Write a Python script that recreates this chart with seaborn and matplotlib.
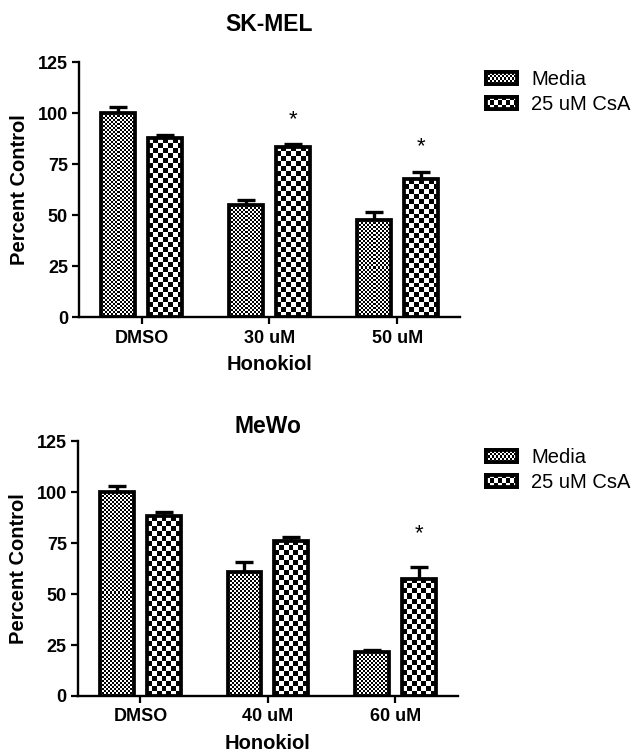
import numpy as np
import pandas as pd
import matplotlib
matplotlib.use("Agg")
import matplotlib.pyplot as plt
from matplotlib.patches import Patch
import seaborn as sns

# ---- data ----
conditions = ["Media", "25 uM CsA"]

skmel_treatments = ["DMSO", "30 uM", "50 uM"]
skmel_media = [100.0, 54.9, 47.5]
skmel_csa = [87.7, 83.5, 67.6]
skmel_media_err = [2.8, 2.3, 3.8]
skmel_csa_err = [1.3, 1.2, 3.6]
skmel_stars = ["30 uM", "50 uM"]
skmel_star_y = [98, 85]

mewo_treatments = ["DMSO", "40 uM", "60 uM"]
mewo_media = [100.1, 60.6, 21.4]
mewo_csa = [88.2, 76.0, 57.4]
mewo_media_err = [3.0, 5.2, 1.0]
mewo_csa_err = [2.0, 1.8, 5.7]
mewo_stars = ["60 uM"]
mewo_star_y = [81]

yticks = [0, 25, 50, 75, 100, 125]

# cell size (pixels) of the checker fill for each condition
cell_px = {"Media": 2, "25 uM CsA": 5}
legend_cell_px = {"Media": 2, "25 uM CsA": 4}

sns.set_style("ticks")
plt.rcParams["font.family"] = ["Liberation Sans", "DejaVu Sans"]
plt.rcParams["text.color"] = "black"
plt.rcParams["axes.labelcolor"] = "black"
plt.rcParams["xtick.color"] = "black"
plt.rcParams["ytick.color"] = "black"

EDGE = 2.7


def checker(nrows, ncols):
    return np.indices((nrows, ncols)).sum(axis=0) % 2


def fill_checker(ax, patch, cell):
    x0, y0 = patch.get_x(), patch.get_y()
    w, h = patch.get_width(), patch.get_height()
    (px0, py0), (px1, py1) = ax.transData.transform([(x0, y0), (x0 + w, y0 + h)])
    nc = max(1, int(round((px1 - px0) / cell)))
    nr = max(1, int(round((py1 - py0) / cell)))
    im = ax.imshow(checker(nr, nc), cmap="gray", vmin=0, vmax=1,
                   extent=(x0, x0 + w, y0, y0 + h), origin="lower",
                   interpolation="nearest", aspect="auto", zorder=2)
    im.set_clip_path(patch)
    patch.set_facecolor("none")
    patch.set_zorder(3)


def draw_panel(ax, title, treatments, media, csa, media_err, csa_err,
               stars, star_y, title_pad):
    df = pd.DataFrame({
        "treatment": treatments * 2,
        "condition": [conditions[0]] * len(treatments) + [conditions[1]] * len(treatments),
        "value": media + csa,
    })
    sns.barplot(data=df, x="treatment", y="value", hue="condition",
                order=treatments, hue_order=conditions, width=0.734, gap=0.275,
                errorbar=None, edgecolor="black", linewidth=EDGE,
                legend=False, ax=ax)
    ax.set_xlim(-0.49, 2.49)
    ax.set_ylim(0, 125)

    for cond, cont, err in zip(conditions, ax.containers, [media_err, csa_err]):
        xs = [p.get_x() + p.get_width() / 2 for p in cont]
        ys = [p.get_height() for p in cont]
        ax.errorbar(xs, ys, yerr=[np.zeros(len(err)), err], fmt="none",
                    ecolor="black", elinewidth=2.4, capsize=6.5, capthick=2.4,
                    zorder=1)
        for p in cont:
            fill_checker(ax, p, cell_px[cond])

    csa_cont = ax.containers[1]
    for lab, sy in zip(stars, star_y):
        p = csa_cont[treatments.index(lab)]
        ax.annotate("*", (p.get_x() + p.get_width() / 2, sy),
                    xytext=(0, -6), textcoords="offset points",
                    ha="center", va="baseline", fontsize=16)

    ax.set_xlim(-0.49, 2.49)
    ax.set_ylim(0, 125)
    ax.set_yticks(yticks)
    ax.set_title(title, fontsize=16.5, fontweight="bold", pad=title_pad)
    ax.set_xlabel("Honokiol", fontsize=14.5, fontweight="bold", labelpad=6)
    ax.set_ylabel("Percent Control", fontsize=14.5, fontweight="bold", labelpad=6)
    for lbl in ax.get_xticklabels() + ax.get_yticklabels():
        lbl.set_fontweight("bold")
    ax.tick_params(axis="both", labelsize=13, width=1.6, length=5, color="black",
                   labelcolor="black")
    ax.tick_params(axis="y", pad=3)
    ax.tick_params(axis="x", pad=4)
    sns.despine(ax=ax)
    for s in ["left", "bottom"]:
        ax.spines[s].set_linewidth(1.7)
        ax.spines[s].set_color("black")
    ax.set_facecolor("white")


def draw_legend(fig, anchor):
    handles = [Patch(facecolor="none", edgecolor="black", linewidth=EDGE, label=c)
               for c in conditions]
    leg = fig.legend(handles=handles, loc="upper left", bbox_to_anchor=anchor,
                     frameon=False, fontsize=14.5, borderpad=0, borderaxespad=0,
                     handlelength=1.55, handleheight=0.55, handletextpad=0.7,
                     labelspacing=0.3)
    return leg


fig = plt.figure(figsize=(6.35, 7.53), dpi=100)
fig.patch.set_facecolor("white")
ax_top = fig.add_axes([0.1244, 0.5790, 0.600, 0.3386])
ax_bot = fig.add_axes([0.1228, 0.0757, 0.598, 0.3386])

draw_panel(ax_top, "SK-MEL", skmel_treatments, skmel_media, skmel_csa,
           skmel_media_err, skmel_csa_err, skmel_stars, skmel_star_y, 22)
draw_panel(ax_bot, "MeWo", mewo_treatments, mewo_media, mewo_csa,
           mewo_media_err, mewo_csa_err, mewo_stars, mewo_star_y, 6)

legs = [draw_legend(fig, (486 / 635, 1 - 70 / 753)),
        draw_legend(fig, (486 / 635, 1 - 448 / 753))]

# paint the checker pattern into the legend keys
fig.canvas.draw()
inv = fig.transFigure.inverted()
for leg in legs:
    for cond, patch in zip(conditions, leg.get_patches()):
        bb = patch.get_window_extent()
        (fx0, fy0), (fx1, fy1) = inv.transform([(bb.x0, bb.y0), (bb.x1, bb.y1)])
        kax = fig.add_axes([fx0, fy0, fx1 - fx0, fy1 - fy0])
        kax.set_zorder(10)
        c = legend_cell_px[cond]
        kax.imshow(checker(max(1, int(round(bb.height / c))), max(1, int(round(bb.width / c)))),
                   cmap="gray", vmin=0, vmax=1, interpolation="nearest", aspect="auto")
        kax.set_xticks([])
        kax.set_yticks([])
        for s in kax.spines.values():
            s.set_linewidth(EDGE)
            s.set_color("black")

fig.savefig("out.png", dpi=100, facecolor="white")
